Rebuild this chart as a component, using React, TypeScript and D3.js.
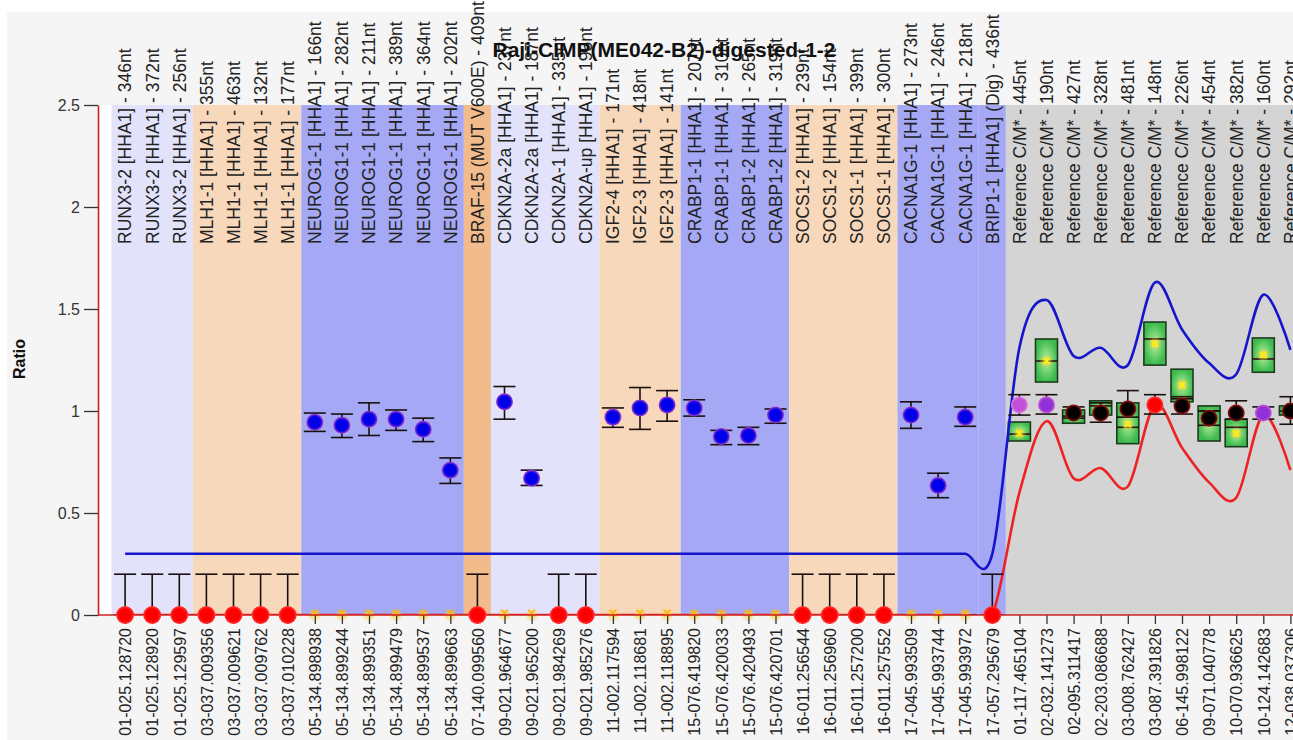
import React, { useEffect, useRef } from 'react'
import * as d3 from 'd3'

// probe names shown along the top, left to right
const probeLabels = [
  'RUNX3-2 [HHA1] - 346nt', 'RUNX3-2 [HHA1] - 372nt', 'RUNX3-2 [HHA1] - 256nt',
  'MLH1-1 [HHA1] - 355nt', 'MLH1-1 [HHA1] - 463nt', 'MLH1-1 [HHA1] - 132nt', 'MLH1-1 [HHA1] - 177nt',
  'NEUROG1-1 [HHA1] - 166nt', 'NEUROG1-1 [HHA1] - 282nt', 'NEUROG1-1 [HHA1] - 211nt',
  'NEUROG1-1 [HHA1] - 389nt', 'NEUROG1-1 [HHA1] - 364nt', 'NEUROG1-1 [HHA1] - 202nt',
  'BRAF-15 (MUT V600E) - 409nt',
  'CDKN2A-2a [HHA1] - 237nt', 'CDKN2A-2a [HHA1] - 187nt', 'CDKN2A-1 [HHA1] - 335nt', 'CDKN2A-up [HHA1] - 195nt',
  'IGF2-4 [HHA1] - 171nt', 'IGF2-3 [HHA1] - 418nt', 'IGF2-3 [HHA1] - 141nt',
  'CRABP1-1 [HHA1] - 207nt', 'CRABP1-1 [HHA1] - 310nt', 'CRABP1-2 [HHA1] - 265nt', 'CRABP1-2 [HHA1] - 319nt',
  'SOCS1-2 [HHA1] - 239nt', 'SOCS1-2 [HHA1] - 154nt', 'SOCS1-1 [HHA1] - 399nt', 'SOCS1-1 [HHA1] - 300nt',
  'CACNA1G-1 [HHA1] - 273nt', 'CACNA1G-1 [HHA1] - 246nt', 'CACNA1G-1 [HHA1] - 218nt',
  'BRIP1-1 [HHA1] (Dig) - 436nt',
  'Reference C/M* - 445nt', 'Reference C/M* - 190nt', 'Reference C/M* - 427nt', 'Reference C/M* - 328nt',
  'Reference C/M* - 481nt', 'Reference C/M* - 148nt', 'Reference C/M* - 226nt', 'Reference C/M* - 454nt',
  'Reference C/M* - 382nt', 'Reference C/M* - 160nt', 'Reference C/M* - 292nt'
]

// chromosome positions shown along the bottom
const chromPositions = [
  '01-025.128720', '01-025.128920', '01-025.129597',
  '03-037.009356', '03-037.009621', '03-037.009762', '03-037.010228',
  '05-134.898938', '05-134.899244', '05-134.899351', '05-134.899479', '05-134.899537', '05-134.899663',
  '07-140.099560',
  '09-021.964677', '09-021.965200', '09-021.984269', '09-021.985276',
  '11-002.117594', '11-002.118681', '11-002.118895',
  '15-076.419820', '15-076.420033', '15-076.420493', '15-076.420701',
  '16-011.256544', '16-011.256960', '16-011.257200', '16-011.257552',
  '17-045.993509', '17-045.993744', '17-045.993972',
  '17-057.295679',
  '01-117.465104', '02-032.141273', '02-095.311417', '02-203.086688', '03-008.762427',
  '03-087.391826', '06-145.998122', '09-071.040778', '10-070.936625', '10-124.142683', '12-038.037306'
]

const ratios = [
  0, 0, 0, 0, 0, 0, 0,
  0.945, 0.93, 0.96, 0.96, 0.91, 0.71,
  0,
  1.045, 0.67, 0, 0,
  0.97, 1.015, 1.03,
  1.015, 0.875, 0.88, 0.98,
  0, 0, 0, 0,
  0.98, 0.635, 0.97,
  0,
  1.03, 1.03, 0.99, 0.99, 1.01, 1.03, 1.025, 0.965, 0.99, 0.99, 1.0
]

const errLow = [
  0, 0, 0, 0, 0, 0, 0,
  0.9, 0.87, 0.88, 0.905, 0.85, 0.645,
  0,
  0.96, 0.635, 0, 0,
  0.92, 0.91, 0.95,
  0.975, 0.835, 0.835, 0.94,
  0, 0, 0, 0,
  0.915, 0.575, 0.925,
  0,
  0.98, 0.985, 0.965, 0.945, 0.97, 0.985, 0.985, 0.93, 0.96, 0.96, 0.935
]

const errHigh = [
  0.2, 0.2, 0.2, 0.2, 0.2, 0.2, 0.2,
  0.99, 0.985, 1.04, 1.005, 0.965, 0.77,
  0.2,
  1.12, 0.71, 0.2, 0.2,
  1.015, 1.115, 1.1,
  1.055, 0.905, 0.92, 1.01,
  0.2, 0.2, 0.2, 0.2,
  1.045, 0.695, 1.02,
  0.2,
  1.08, 1.08, 1.02, 1.04, 1.1, 1.08, 1.06, 1.0, 1.05, 1.02, 1.07
]

// reference probe dot tones (the sample probes are blue, or red when digested to 0)
const refDotTones = ['pink', 'purple', 'black', 'black', 'black', 'red', 'black', 'black', 'black', 'purple', 'black']

// reference sample box plots (reference probes only; all others sit at 0)
const boxQ1 = [0.853, 1.142, 0.94, 0.98, 0.84, 1.225, 1.045, 0.853, 0.825, 1.19, 0.98]
const boxMedian = [0.887, 1.245, 0.975, 1.025, 0.92, 1.353, 1.07, 1.0, 0.92, 1.255, 1.0]
const boxQ3 = [0.946, 1.353, 1.005, 1.05, 1.04, 1.436, 1.205, 1.025, 0.96, 1.358, 1.025]
const boxMean = [0.89, 1.245, 0.98, 1.0, 0.935, 1.33, 1.127, 0.95, 0.89, 1.275, 1.0]

const upperLimit = [
  0.3, 0.3, 0.3, 0.3, 0.3, 0.3, 0.3, 0.3, 0.3, 0.3, 0.3,
  0.3, 0.3, 0.3, 0.3, 0.3, 0.3, 0.3, 0.3, 0.3, 0.3, 0.3,
  0.3, 0.3, 0.3, 0.3, 0.3, 0.3, 0.3, 0.3, 0.3, 0.3, 0.3,
  1.31, 1.544, 1.27, 1.31, 1.225, 1.63, 1.4, 1.235, 1.18, 1.57, 1.3
]

const lowerLimit = [
  0, 0, 0, 0, 0, 0, 0, 0, 0, 0, 0,
  0, 0, 0, 0, 0, 0, 0, 0, 0, 0, 0,
  0, 0, 0, 0, 0, 0, 0, 0, 0, 0, 0,
  0.6, 0.95, 0.67, 0.72, 0.63, 1.03, 0.82, 0.65, 0.575, 0.98, 0.71
]

const yTicks = [0, 0.5, 1, 1.5, 2, 2.5]

const TITLE = 'Raji-CIMP(ME042-B2)-digested-1-2'

const WIDTH = 1293
const HEIGHT = 740
const FONT = "'Liberation Sans', Arial, sans-serif"

const BAND_COLORS: Record<string, string> = {
  RUNX3: '#e2e2fa',
  MLH1: '#f8d8bb',
  NEUROG1: '#a4a8f5',
  BRAF: '#f2bb8b',
  CDKN2A: '#e2e2fa',
  IGF2: '#f8d8bb',
  CRABP1: '#a4a8f5',
  SOCS1: '#f8d8bb',
  CACNA1G: '#a4a8f5',
  BRIP1: '#a4a8f5',
  Reference: '#d4d4d4'
}

const DOT_TONES: Record<string, { core: string; edge: string }> = {
  blue: { core: '#0000e8', edge: '#b040c8' },
  red: { core: '#ff0000', edge: '#ff3a3a' },
  black: { core: '#050000', edge: '#b01818' },
  purple: { core: '#9030d8', edge: '#d060d8' },
  pink: { core: '#c050d8', edge: '#e880e0' }
}

export default function App() {
  const svgRef = useRef<SVGSVGElement>(null)

  useEffect(() => {
    if (!svgRef.current) return
    const svg = d3.select(svgRef.current)
    svg.selectAll('*').remove()

    const n = probeLabels.length
    const axisX = 98
    const step = 27.1
    const x = d3.scaleLinear().domain([-1, n - 1]).range([axisX, axisX + step * n])
    const y = d3.scaleLinear().domain([0, 2.5]).range([615, 105])
    const plotTop = y(2.5)
    const plotBottom = y(0)
    const nRef = refDotTones.length
    const firstRef = n - nRef

    const defs = svg.append('defs')
    defs.append('clipPath').attr('id', 'plot-clip')
      .append('rect')
      .attr('x', axisX).attr('y', plotTop)
      .attr('width', WIDTH - axisX).attr('height', plotBottom - plotTop)

    Object.entries(DOT_TONES).forEach(([k, t]) => {
      const g = defs.append('radialGradient').attr('id', `dot-${k}`)
      g.append('stop').attr('offset', '0%').attr('stop-color', t.core)
      g.append('stop').attr('offset', '68%').attr('stop-color', t.core)
      g.append('stop').attr('offset', '100%').attr('stop-color', t.edge)
    })

    const boxGrad = defs.append('radialGradient').attr('id', 'box-fill')
    boxGrad.append('stop').attr('offset', '0%').attr('stop-color', '#b8f09c')
    boxGrad.append('stop').attr('offset', '100%').attr('stop-color', '#3cba4e')

    const glow = defs.append('radialGradient').attr('id', 'star-glow')
    glow.append('stop').attr('offset', '0%').attr('stop-color', '#ffff60').attr('stop-opacity', 0.95)
    glow.append('stop').attr('offset', '100%').attr('stop-color', '#ffb020').attr('stop-opacity', 0)

    // page and plot backgrounds
    svg.append('rect').attr('width', WIDTH).attr('height', HEIGHT).attr('fill', '#ffffff')
    svg.append('rect').attr('x', 7).attr('y', 12)
      .attr('width', WIDTH - 7).attr('height', HEIGHT - 12).attr('fill', '#f5f5f5')
    svg.append('rect').attr('x', axisX).attr('y', plotTop)
      .attr('width', WIDTH - axisX).attr('height', plotBottom - plotTop).attr('fill', '#ffffff')

    // gene bands: consecutive probes of one gene share a band
    const geneOf = (label: string) => label.split(' ')[0].replace(/-[^-]*$/, '')
    const bands: { gene: string; start: number; end: number }[] = []
    probeLabels.forEach((label, i) => {
      const gene = geneOf(label)
      const last = bands[bands.length - 1]
      if (last && last.gene === gene) last.end = i
      else bands.push({ gene, start: i, end: i })
    })

    const plot = svg.append('g').attr('clip-path', 'url(#plot-clip)')

    plot.selectAll('.band')
      .data(bands)
      .enter().append('rect')
      .attr('class', 'band')
      .attr('x', d => x(d.start - 0.5))
      .attr('y', plotTop)
      .attr('width', d => x(d.end + 0.5) - x(d.start - 0.5))
      .attr('height', plotBottom - plotTop)
      .attr('fill', d => BAND_COLORS[d.gene] || '#dddddd')

    // box plots of the reference samples
    const boxes = probeLabels.map((_, i) => {
      const r = i - firstRef
      return r >= 0
        ? { i, q1: boxQ1[r], med: boxMedian[r], q3: boxQ3[r], mean: boxMean[r] }
        : { i, q1: 0, med: 0, q3: 0, mean: 0 }
    })
    const boxW = 22

    const boxG = plot.selectAll('.box')
      .data(boxes)
      .enter().append('g')
      .attr('class', 'box')

    boxG.append('rect')
      .attr('x', d => x(d.i) - boxW / 2)
      .attr('y', d => y(d.q3))
      .attr('width', boxW)
      .attr('height', d => Math.max(0.01, y(d.q1) - y(d.q3)))
      .attr('fill', 'url(#box-fill)')
      .attr('stroke', '#1e3a1e')
      .attr('stroke-width', 1.6)

    boxG.append('line')
      .attr('x1', d => x(d.i) - boxW / 2)
      .attr('x2', d => x(d.i) + boxW / 2)
      .attr('y1', d => y(d.med))
      .attr('y2', d => y(d.med))
      .attr('stroke', '#2a1010')
      .attr('stroke-width', 1.6)

    // limit curves
    const curve = d3.line<number>()
      .x((_, i) => x(i))
      .y(d => y(d))
      .curve(d3.curveCardinal)

    plot.append('path')
      .datum(lowerLimit)
      .attr('d', curve)
      .attr('fill', 'none')
      .attr('stroke', '#ee2222')
      .attr('stroke-width', 2.6)

    plot.append('path')
      .datum(upperLimit)
      .attr('d', curve)
      .attr('fill', 'none')
      .attr('stroke', '#1515cc')
      .attr('stroke-width', 2.6)

    // mean markers (drawn unclipped so the ones on the zero line show)
    const starG = svg.append('g')
    starG.selectAll('circle')
      .data(boxes)
      .enter().append('circle')
      .attr('cx', d => x(d.i))
      .attr('cy', d => y(d.mean))
      .attr('r', 7)
      .attr('fill', 'url(#star-glow)')

    const star = d3.symbol().type(d3.symbolX).size(30)
    starG.selectAll('path')
      .data(boxes)
      .enter().append('path')
      .attr('d', star)
      .attr('transform', d => `translate(${x(d.i)},${y(d.mean) - (d.mean === 0 ? 2 : 0)})`)
      .attr('fill', 'none')
      .attr('stroke', d => (d.mean === 0 ? '#ffb000' : '#ffee00'))
      .attr('stroke-width', 1.6)

    // error bars
    const capW = 11
    const errG = svg.append('g').selectAll('.err')
      .data(ratios.map((_, i) => i))
      .enter().append('g')
      .attr('class', 'err')
      .attr('stroke', '#1a1010')
      .attr('stroke-width', 1.6)

    errG.append('line')
      .attr('x1', i => x(i)).attr('x2', i => x(i))
      .attr('y1', i => y(errLow[i])).attr('y2', i => y(errHigh[i]))
    errG.append('line')
      .attr('x1', i => x(i) - capW).attr('x2', i => x(i) + capW)
      .attr('y1', i => y(errHigh[i])).attr('y2', i => y(errHigh[i]))
    errG.filter(i => errLow[i] > 0).append('line')
      .attr('x1', i => x(i) - capW).attr('x2', i => x(i) + capW)
      .attr('y1', i => y(errLow[i])).attr('y2', i => y(errLow[i]))

    // axes
    const yAxis = d3.axisLeft(y)
      .tickValues(yTicks)
      .tickFormat(d => d3.format('')(d as number))
      .tickSize(14)
      .tickSizeOuter(0)
      .tickPadding(4)

    const yG = svg.append('g')
      .attr('transform', `translate(${axisX},0)`)
      .call(yAxis)
    yG.select('.domain').attr('stroke', '#cc2020').attr('stroke-width', 1.6)
    yG.selectAll('.tick line').attr('stroke', '#333333').attr('stroke-width', 1.3)
    yG.selectAll('text')
      .attr('fill', '#333333')
      .style('font-size', '16px')
      .style('font-family', FONT)

    const xAxis = d3.axisBottom(x)
      .tickValues(d3.range(n))
      .tickFormat(d => chromPositions[d as number])
      .tickSize(9)
      .tickSizeOuter(0)

    const xG = svg.append('g')
      .attr('transform', `translate(0,${plotBottom})`)
      .call(xAxis)
    xG.select('.domain').remove()
    xG.selectAll('.tick line').attr('stroke', '#333333').attr('stroke-width', 1.3)
    xG.selectAll('text')
      .attr('transform', 'rotate(-90)')
      .attr('x', -13)
      .attr('y', 0)
      .attr('dy', '0.36em')
      .attr('fill', '#222222')
      .style('text-anchor', 'end')
      .style('font-size', '16px')
      .style('font-family', FONT)

    svg.append('line')
      .attr('x1', axisX).attr('x2', WIDTH)
      .attr('y1', plotBottom).attr('y2', plotBottom)
      .attr('stroke', '#cc2020')
      .attr('stroke-width', 1.6)

    // ratio dots
    const toneOf = (i: number) => {
      if (i >= firstRef) return refDotTones[i - firstRef]
      return ratios[i] === 0 ? 'red' : 'blue'
    }

    svg.append('g').selectAll('circle')
      .data(ratios)
      .enter().append('circle')
      .attr('cx', (_, i) => x(i))
      .attr('cy', d => y(d))
      .attr('r', d => (d === 0 ? 9 : 8.5))
      .attr('fill', (_, i) => `url(#dot-${toneOf(i)})`)

    // probe names
    svg.append('g').selectAll('text')
      .data(probeLabels)
      .enter().append('text')
      .attr('transform', (_, i) => `translate(${x(i)},244) rotate(-90)`)
      .attr('dy', '0.36em')
      .style('font-size', '17.5px')
      .style('font-family', FONT)
      .attr('fill', '#222222')
      .text(d => d)

    svg.append('text')
      .attr('transform', 'translate(25,359) rotate(-90)')
      .style('text-anchor', 'middle')
      .style('font-size', '16px')
      .style('font-weight', 'bold')
      .style('font-family', FONT)
      .attr('fill', '#111111')
      .text('Ratio')

    svg.append('text')
      .attr('x', 664)
      .attr('y', 57)
      .style('text-anchor', 'middle')
      .style('font-size', '21px')
      .style('font-weight', 'bold')
      .style('font-family', FONT)
      .attr('fill', '#111111')
      .text(TITLE)
  }, [])

  return (
    <svg
      ref={svgRef}
      width={WIDTH}
      height={HEIGHT}
      style={{ position: 'absolute', left: 0, top: 0, display: 'block' }}
    />
  )
}
